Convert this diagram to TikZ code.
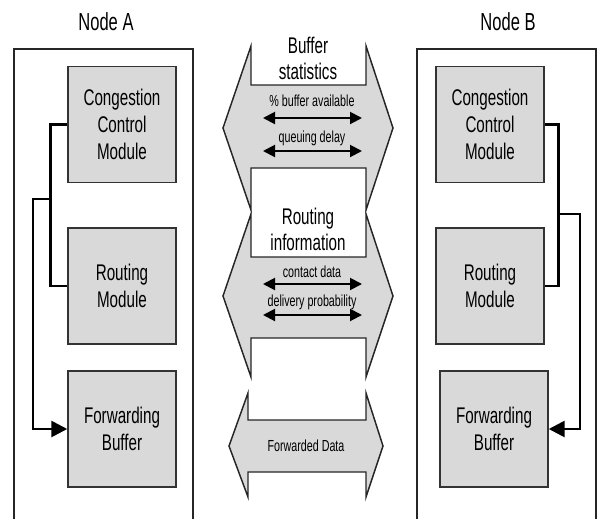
\documentclass[tikz,border=0pt]{standalone}
\usepackage{fontspec}
\setmainfont{Liberation Sans}[FakeStretch=0.67]
\usetikzlibrary{arrows.meta}
\definecolor{boxgray}{RGB}{217,217,217}
\tikzset{
	frame/.style={line width=1.8pt, draw=black!85},
	module/.style={draw=black!80, line width=1.1pt, fill=boxgray, minimum width=81pt, minimum height=87pt, inner sep=0pt, align=center, font=\fontsize{17}{20.5}\selectfont},
	nodelabel/.style={font=\fontsize{18.5}{20}\selectfont},
	midtext/.style={align=center, font=\fontsize{17}{19.5}\selectfont},
	smalltext/.style={font=\fontsize{12}{13}\selectfont},
	conn/.style={line width=2pt},
	bigarrow/.style={fill=boxgray, draw=black!85, line width=1.1pt, line join=miter},
	dblarrow/.style={line width=1.5pt, {Triangle[length=9pt,width=9pt]}-{Triangle[length=9pt,width=9pt]}},
}
\begin{document}
\begin{tikzpicture}[x=0.75pt, y=-0.75pt, thick]
	\useasboundingbox (0,0) rectangle (597,519);
	
	%node frames
	\node[nodelabel] (labA) at (106,22) {Node A};
	\node[nodelabel] (labB) at (508,22) {Node B};
	\draw[frame] (14,519) -- (14,49) -- (193,49) -- (193,519);
	\draw[frame] (417,519) -- (417,49) -- (596,49) -- (596,519);
	
	%modules of node A
	\node[module] (ccmA) at (122,124.5) {Congestion\\Control\\Module};
	\node[module] (rtA) at (122,286) {Routing\\Module};
	\node[module] (fwA) at (122,429) {Forwarding\\Buffer};
	
	%modules of node B
	\node[module] (ccmB) at (490,124.5) {Congestion\\Control\\Module};
	\node[module] (rtB) at (490,286) {Routing\\Module};
	\node[module] (fwB) at (494,429) {Forwarding\\Buffer};
	
	%wiring inside the nodes
	\draw[conn] (ccmA.west) -- ++(-17,0) |- (rtA.west);
	\coordinate (jA) at (51,199);
	\draw[conn, -{Triangle[length=12pt,width=12pt]}] (jA) -- ++(-18,0) |- (fwA.west);
	\draw[conn] (ccmB.east) -- ++(14,0) |- (rtB.east);
	\coordinate (jB) at (558,214);
	\draw[conn, -{Triangle[length=12pt,width=12pt]}] (jB) -- ++(22,0) |- (fwB.east);
	
	%exchange arrows
	\foreach \tipl/\headl/\headr/\tipr/\htop/\hbot/\shtop/\shbot/\cy in {223/251/366/393/46/210/85/168/128, 223/251/366/393/214/377/257/338/296, 229/248/366/383/393/497/420/472/446}{
		\draw[bigarrow] (\tipl,\cy) -- (\headl,\htop) -- (\headl,\shtop) -- (\headr,\shtop) -- (\headr,\htop) -- (\tipr,\cy) -- (\headr,\hbot) -- (\headr,\shbot) -- (\headl,\shbot) -- (\headl,\hbot) -- cycle;
	}
	\node[midtext] (bufst) at (308,58) {Buffer\\statistics};
	\node[midtext] (rtinfo) at (308,229) {Routing\\information};
	\node[smalltext] (pbtext) at (312,101) {\% buffer available};
	\node[smalltext] (qdtext) at (312,138) {queuing delay};
	\node[smalltext] (cdtext) at (312,272) {contact data};
	\node[smalltext] (dptext) at (312,302) {delivery probability};
	\node[smalltext] (fdtext) at (306,446) {Forwarded Data};
	
	\foreach \nm/\yy in {pb/118, qd/151, cd/284, dp/315}{
		\coordinate (\nm-l) at (263,\yy);
		\coordinate (\nm-r) at (362,\yy);
		\draw[dblarrow] (\nm-l) -- (\nm-r);
	}
\end{tikzpicture}
\end{document}
